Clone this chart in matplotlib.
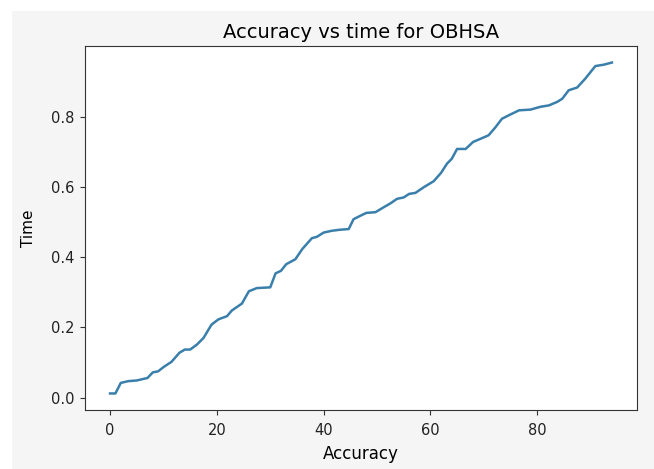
import matplotlib
matplotlib.use('Agg')
import matplotlib.pyplot as plt
from matplotlib.patches import Rectangle

# values
accuracy = [0, 1, 2, 3.4, 5, 7, 8, 9, 10, 11.5, 13, 14, 15, 16.25, 17.5, 19,
            20.3, 21.9, 22.8, 24.7, 26, 27.5, 30, 31, 32, 33, 34.7, 36, 37.8,
            38.75, 40, 41.5, 43, 44.7, 45.6, 46.9, 48, 49.7, 51.25, 52.5,
            53.75, 55, 56, 57.2, 58.75, 60.6, 62, 63.1, 64, 65, 66.6, 68,
            69.4, 70.9, 72.2, 73.4, 74.7, 76.6, 78.75, 80.6, 82.2, 83.75,
            84.7, 85.9, 87.5, 89, 90.9, 92.5, 94]
time_vals = [0.012, 0.012, 0.042, 0.047, 0.049, 0.056, 0.072, 0.075, 0.087,
             0.102, 0.128, 0.137, 0.137, 0.151, 0.170, 0.208, 0.223, 0.232,
             0.248, 0.268, 0.303, 0.312, 0.314, 0.354, 0.361, 0.380, 0.394,
             0.423, 0.454, 0.458, 0.470, 0.475, 0.478, 0.480, 0.508, 0.518,
             0.526, 0.528, 0.542, 0.553, 0.566, 0.570, 0.580, 0.583, 0.599,
             0.616, 0.640, 0.666, 0.680, 0.708, 0.708, 0.728, 0.737, 0.747,
             0.770, 0.794, 0.804, 0.818, 0.820, 0.828, 0.832, 0.842, 0.851,
             0.875, 0.883, 0.908, 0.944, 0.948, 0.954]

fig = plt.figure(figsize=(6.54, 4.69), dpi=100, facecolor='white')
# light grey notebook output area behind the figure
fig.patches.append(Rectangle((12 / 654, 0), 1, 1 - 11 / 469, transform=fig.transFigure,
                             facecolor='#f5f5f5', edgecolor='none', zorder=-10))

ax = fig.add_axes([85 / 654, 59 / 469, (637 - 85) / 654, (410 - 46) / 469])
ax.set_facecolor('white')
ax.plot(accuracy, time_vals, color='#3a7fab', linewidth=1.8)
ax.set_title('Accuracy vs time for OBHSA', fontsize=14)
ax.set_xlabel('Accuracy', fontsize=12, labelpad=5)
ax.set_ylabel('Time', fontsize=11, labelpad=11)
ax.set_xticks([0, 20, 40, 60, 80])
ax.set_yticks([0.0, 0.2, 0.4, 0.6, 0.8])
ax.tick_params(axis='x', labelsize=10.5, pad=6, colors='#333333', labelcolor='#222222')
ax.tick_params(axis='y', labelsize=10.5, pad=4, colors='#333333', labelcolor='#222222')
for s in ax.spines.values():
    s.set_color('#333333')

fig.savefig('out.png', dpi=100, facecolor=fig.get_facecolor())
